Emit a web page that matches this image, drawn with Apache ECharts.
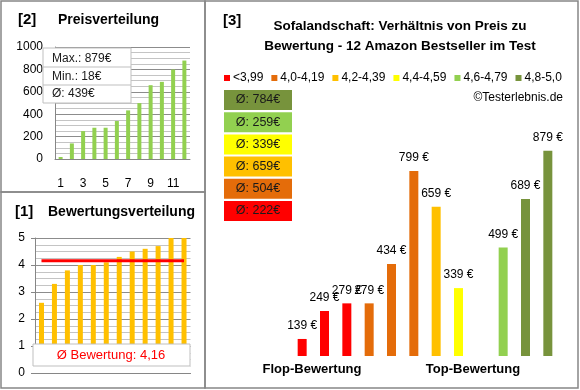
<!DOCTYPE html>
<html>
<head>
<meta charset="utf-8">
<script src="https://cdn.jsdelivr.net/npm/echarts@6/dist/echarts.min.js"></script>
<style>
html,body{margin:0;padding:0;background:#fff;}
#c{width:580px;height:390px;}
</style>
</head>
<body>
<div id="c"></div>
<script>
// ---- data ----
const positions = ['1','2','3','4','5','6','7','8','9','10','11','12'];
const ratings = [2.6, 3.3, 3.8, 4.0, 4.0, 4.1, 4.3, 4.5, 4.6, 4.7, 5.0, 5.0];
const prices = [139, 249, 279, 279, 434, 799, 659, 339, 18, 499, 689, 879];
const groupNames = ['<3,99', '4,0-4,19', '4,2-4,39', '4,4-4,59', '4,6-4,79', '4,8-5,0'];
const groupUpper = [4.0, 4.2, 4.4, 4.6, 4.8, Infinity];
const groupColors = ['#FF0000', '#E46C0A', '#FFC000', '#FFFF00', '#92D050', '#77933C'];
const priceTicks = [0, 200, 400, 600, 800, 1000];
const ratingTicks = [0, 1, 2, 3, 4, 5];
const mainAxisRange = [72, 1000];

// ---- derived ----
const FONT = 'Liberation Sans';
const sortedPrices = prices.slice().sort((a, b) => a - b);
const groupOf = ratings.map(r => groupUpper.findIndex(u => r < u));
const avgRating = ratings.reduce((a, b) => a + b, 0) / ratings.length;
const avgPrice = prices.reduce((a, b) => a + b, 0) / prices.length;
const groupAvg = groupNames.map((_, g) => {
  const v = prices.filter((p, i) => groupOf[i] === g);
  return Math.round(v.reduce((a, b) => a + b, 0) / v.length);
});

const chart = echarts.init(document.getElementById('c'), null, {renderer: 'canvas'});

const groupSeries = groupNames.map((name, g) => ({
  type: 'bar', name: name, xAxisIndex: 2, yAxisIndex: 2,
  data: prices.map((p, i) => groupOf[i] === g ? p : '-'),
  barWidth: 9, barGap: '-100%', clip: true,
  itemStyle: {color: groupColors[g]},
  label: {show: true, position: 'top', distance: 7, formatter: '{c} €',
    fontFamily: FONT, fontSize: 12, color: '#000'},
  animation: false
}));

const graphics = [];
// panel borders
[[1, 1, 204, 191], [1, 192, 204, 196], [205, 1, 373, 387]].forEach(r => {
  graphics.push({type: 'rect', shape: {x: r[0], y: r[1], width: r[2], height: r[3]},
    style: {fill: 'none', stroke: '#868686', lineWidth: 1.5}, z: 50});
});
function txt(x, y, text, size, bold, align, color) {
  graphics.push({type: 'text', x: x, y: y, z: 60,
    style: {text: text, fontFamily: FONT, fontSize: size, fontWeight: bold ? 'bold' : 'normal',
      fill: color || '#000', align: align || 'left', verticalAlign: 'middle'}});
}
txt(18, 20, '[2]', 15, true);
txt(58, 20, 'Preisverteilung', 14, true);
txt(15, 212, '[1]', 15, true);
txt(48, 212, 'Bewertungsverteilung', 14, true);
txt(223, 21, '[3]', 15, true);
txt(400, 26, 'Sofalandschaft: Verhältnis von Preis zu', 13.5, true, 'center');
txt(400, 46, 'Bewertung - 12 Amazon Bestseller im Test', 13.5, true, 'center');
txt(563, 98, '©Testerlebnis.de', 12, false, 'right');

// info box top-left
graphics.push({type: 'rect', shape: {x: 43, y: 48, width: 88, height: 55},
  style: {fill: '#fff', stroke: '#BFBFBF', lineWidth: 1}, z: 55});
graphics.push({type: 'line', shape: {x1: 43, y1: 67, x2: 131, y2: 67}, style: {stroke: '#BFBFBF', lineWidth: 1}, z: 56});
graphics.push({type: 'line', shape: {x1: 43, y1: 85, x2: 131, y2: 85}, style: {stroke: '#BFBFBF', lineWidth: 1}, z: 56});
txt(52, 59, 'Max.: ' + Math.max(...prices) + '€', 12, false, 'left', '#1a1a1a');
txt(52, 77, 'Min.: ' + Math.min(...prices) + '€', 12, false, 'left', '#1a1a1a');
txt(52, 94, 'Ø: ' + Math.round(avgPrice) + '€', 12, false, 'left', '#1a1a1a');

// rating average box
graphics.push({type: 'rect', shape: {x: 33, y: 365, width: 157, height: 8}, style: {fill: '#fff'}, z: 54});
graphics.push({type: 'rect', shape: {x: 33, y: 344, width: 157, height: 22},
  style: {fill: '#fff', stroke: '#BFBFBF', lineWidth: 1}, z: 55});
graphics.push({type: 'line', shape: {x1: 35, y1: 373.5, x2: 190.5, y2: 373.5}, style: {stroke: '#868686', lineWidth: 1}, z: 56});
txt(111, 355, 'Ø Bewertung: ' + avgRating.toFixed(2).replace('.', ','), 13, false, 'center', '#FF0000');

// group average boxes (top: best group)
for (let k = 0; k < groupNames.length; k++) {
  const g = groupNames.length - 1 - k;
  const y = 90 + k * 22.2;
  graphics.push({type: 'rect', shape: {x: 224, y: y, width: 68, height: 20},
    style: {fill: groupColors[g]}, z: 55});
  txt(258, y + 10, 'Ø: ' + groupAvg[g] + '€', 12.5, false, 'center', '#1a1a1a');
}
// bottom labels right panel
graphics.push({type: 'rect', shape: {x: 290, y: 357, width: 275, height: 26}, style: {fill: '#fff'}, z: 55});
txt(312, 369, 'Flop-Bewertung', 13, true, 'center');
txt(473, 369, 'Top-Bewertung', 13, true, 'center');

const option = {
  animation: false,
  backgroundColor: '#fff',
  textStyle: {fontFamily: FONT},
  legend: {
    data: groupNames, left: 224, top: 72, icon: 'rect', itemWidth: 6, itemHeight: 6,
    itemGap: 8, padding: 0, selectedMode: false,
    textStyle: {fontFamily: FONT, fontSize: 12, color: '#000', padding: [0, 0, 0, -2]}
  },
  grid: [
    {left: 55, top: 47, width: 135, height: 112},
    {left: 35, top: 238, width: 155.5, height: 135},
    {left: 291, top: 120, width: 268, height: 236}
  ],
  xAxis: [
    {type: 'category', gridIndex: 0, data: positions,
      axisLine: {lineStyle: {color: '#868686'}}, axisTick: {show: false},
      axisLabel: {interval: 1, margin: 19, fontFamily: FONT, fontSize: 12, color: '#000'}},
    {type: 'category', gridIndex: 1, data: positions,
      axisLine: {lineStyle: {color: '#868686'}}, axisTick: {show: false}, axisLabel: {show: false}},
    {type: 'category', gridIndex: 2, data: positions, show: false}
  ],
  yAxis: [
    {type: 'value', gridIndex: 0, min: priceTicks[0], max: priceTicks[priceTicks.length - 1], interval: priceTicks[1] - priceTicks[0],
      axisLine: {show: true, lineStyle: {color: '#868686'}}, axisTick: {show: false},
      axisLabel: {margin: 12, fontFamily: FONT, fontSize: 12, color: '#000', formatter: v => String(v)},
      splitLine: {lineStyle: {color: '#8c8c8c'}},
      minorTick: {show: false, splitNumber: 4},
      minorSplitLine: {show: true, lineStyle: {color: '#c4c4c4'}}},
    {type: 'value', gridIndex: 1, min: ratingTicks[0], max: ratingTicks[ratingTicks.length - 1], interval: ratingTicks[1] - ratingTicks[0],
      axisLine: {show: true, lineStyle: {color: '#868686'}},
      axisTick: {show: true, length: 4, lineStyle: {color: '#868686'}},
      axisLabel: {margin: 10, fontFamily: FONT, fontSize: 12, color: '#000'},
      splitLine: {lineStyle: {color: '#8c8c8c'}},
      minorTick: {show: false, splitNumber: 4},
      minorSplitLine: {show: true, lineStyle: {color: '#c4c4c4'}}},
    {type: 'value', gridIndex: 2, min: mainAxisRange[0], max: mainAxisRange[1], show: false}
  ],
  series: [
    {type: 'bar', xAxisIndex: 0, yAxisIndex: 0, data: sortedPrices, barWidth: 4,
      itemStyle: {color: '#92D050'}},
    {type: 'bar', xAxisIndex: 1, yAxisIndex: 1, data: ratings, barWidth: 5,
      itemStyle: {color: '#FFC000'}},
    {type: 'line', xAxisIndex: 1, yAxisIndex: 1, data: ratings.map(() => avgRating),
      symbol: 'none', lineStyle: {color: '#FF0000', width: 3}, z: 5}
  ].concat(groupSeries),
  graphic: graphics
};
chart.setOption(option);
</script>
</body>
</html>
